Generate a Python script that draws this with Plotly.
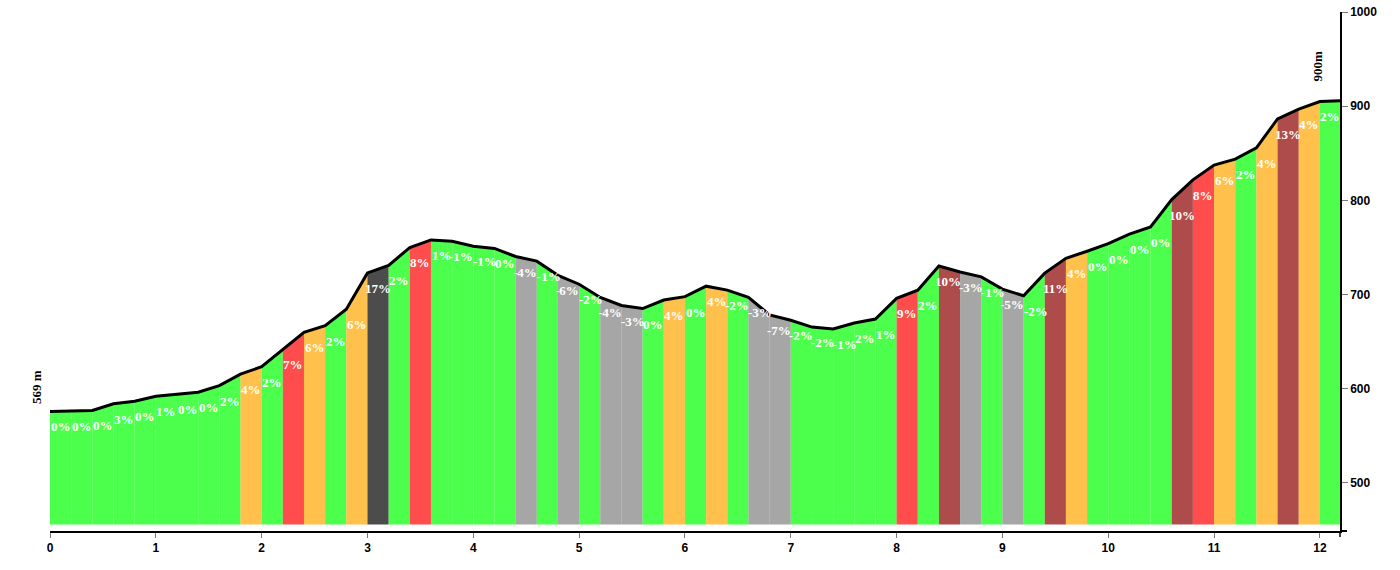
import plotly.graph_objects as go

# ---- data ----
distance_km = [0.0, 0.2, 0.4, 0.6, 0.8, 1.0, 1.2, 1.4, 1.6, 1.8, 2.0, 2.2, 2.4, 2.6, 2.8,
               3.0, 3.2, 3.4, 3.6, 3.8, 4.0, 4.2, 4.4, 4.6, 4.8, 5.0, 5.2, 5.4, 5.6, 5.8,
               6.0, 6.2, 6.4, 6.6, 6.8, 7.0, 7.2, 7.4, 7.6, 7.8, 8.0, 8.2, 8.4, 8.6, 8.8,
               9.0, 9.2, 9.4, 9.6, 9.8, 10.0, 10.2, 10.4, 10.6, 10.8, 11.0, 11.2, 11.4,
               11.6, 11.8, 12.0, 12.19]
elevation_m = [576, 576.5, 577, 584, 586.7, 592, 594.3, 596.4, 603.4, 615.5, 623.4, 641.8,
               660, 667, 684.5, 723, 731, 750, 758, 756.5, 751.3, 749, 740.4, 735.5, 720.4,
               711, 697, 688.4, 685.2, 694.2, 697.8, 708.9, 704.7, 697, 678.5, 672.7, 665.5,
               663.5, 669.8, 674, 696, 704.7, 730.3, 724, 718.8, 705.8, 698.8, 722.8, 738.5,
               746, 754, 764.2, 771.8, 800.8, 821.8, 837.5, 843.8, 855.7, 886.5, 897, 905,
               905.7]
segment_class = ["G", "G", "G", "G", "G", "G", "G", "G", "G", "O", "G", "R", "O", "G", "O",
                 "K", "G", "R", "G", "G", "G", "G", "A", "G", "A", "G", "A", "A", "G", "O",
                 "G", "O", "G", "A", "A", "G", "G", "G", "G", "G", "R", "G", "D", "A", "G",
                 "A", "G", "D", "O", "G", "G", "G", "G", "D", "R", "O", "G", "O", "D", "O",
                 "G"]
segment_label = ["0%", "0%", "0%", "3%", "0%", "1%", "0%", "0%", "2%", "4%", "2%", "7%", "6%",
                 "2%", "6%", "17%", "2%", "8%", "1%", "-1%", "-1%", "0%", "-4%", "-1%", "-6%",
                 "-2%", "-4%", "-3%", "0%", "4%", "0%", "4%", "-2%", "-3%", "-7%", "-2%", "-2%",
                 "-1%", "2%", "1%", "9%", "2%", "10%", "-3%", "-1%", "-5%", "-2%", "11%", "4%",
                 "0%", "0%", "0%", "0%", "10%", "8%", "6%", "2%", "4%", "13%", "4%", "2%"]
x_ticks = [0, 1, 2, 3, 4, 5, 6, 7, 8, 9, 10, 11, 12]
y_ticks = [500, 600, 700, 800, 900, 1000]
start_label = "569 m"
end_label = "900m"

# ---- style ----
CLASS_COLORS = {
    "G": "rgba(0,255,0,0.7)",
    "O": "rgba(255,165,0,0.7)",
    "R": "rgba(255,0,0,0.7)",
    "D": "rgba(139,0,0,0.7)",
    "K": "rgba(0,0,0,0.7)",
    "A": "rgba(128,128,128,0.7)",
}
Y_MIN, Y_MAX = 449, 1000
FILL_BASE = 456
LABEL_SIZE = 13
LABEL_FONT = dict(family="Liberation Serif, Times New Roman, serif", size=LABEL_SIZE,
                  color="white", weight="bold")
PLOT_W_PX = 1290


def est_width(s):
    em = {"%": 1.0, "-": 0.333}
    return sum(em.get(c, 0.5) for c in s) * LABEL_SIZE


# small horizontal nudges so neighbouring labels do not collide
seg_px = 0.2 / distance_km[-1] * PLOT_W_PX
xshift = [0.0] * len(segment_label)
for i in range(len(segment_label) - 1):
    need = (est_width(segment_label[i]) + est_width(segment_label[i + 1])) / 2
    excess = need - seg_px
    if excess > 2.5 and abs(elevation_m[i] - elevation_m[i + 1]) < 12:
        xshift[i] -= excess / 2
        xshift[i + 1] += excess / 2

fig = go.Figure()

for i, cls in enumerate(segment_class):
    x0, x1 = distance_km[i], distance_km[i + 1]
    y0, y1 = elevation_m[i], elevation_m[i + 1]
    fig.add_trace(go.Scatter(
        x=[x0, x0, x1, x1, x0], y=[FILL_BASE, y0, y1, FILL_BASE, FILL_BASE],
        mode="lines", fill="toself", fillcolor=CLASS_COLORS[cls],
        line=dict(width=0), hoverinfo="skip", showlegend=False))

fig.add_trace(go.Scatter(x=distance_km, y=elevation_m, mode="lines",
                         line=dict(color="black", width=3), showlegend=False,
                         hoverinfo="skip"))

for i, lab in enumerate(segment_label):
    fig.add_annotation(x=(distance_km[i] + distance_km[i + 1]) / 2, y=elevation_m[i],
                       text=lab, showarrow=False, yanchor="middle", yshift=-15.5,
                       xshift=xshift[i], font=LABEL_FONT)

fig.add_annotation(xref="paper", x=-13 / 1290, xanchor="center", y=602, yanchor="middle",
                   text=start_label, showarrow=False, textangle=-90,
                   font=dict(family="Liberation Serif, serif", size=13,
                             color="black", weight="bold"))
fig.add_annotation(x=11.98, xanchor="center", y=943, yanchor="middle", text=end_label,
                   showarrow=False, textangle=-90,
                   font=dict(family="Liberation Serif, serif", size=13, color="black",
                             weight="bold"))

# outer ticks of axes
fig.add_shape(type="line", xref="paper", yref="paper", x0=1, x1=1, y0=0, y1=-6 / 526,
              line=dict(color="black", width=1.5))
fig.add_shape(type="line", xref="paper", yref="paper", x0=1, x1=1 + 7 / 1290, y0=0, y1=0,
              line=dict(color="black", width=2))

tickfont = dict(family="Arial, Liberation Sans, sans-serif", size=12, color="black",
                weight="bold")
fig.update_layout(
    width=1400, height=570,
    margin=dict(l=50, r=60, t=5, b=39),
    paper_bgcolor="white", plot_bgcolor="white",
    xaxis=dict(range=[0, distance_km[-1]], tickvals=x_ticks, ticks="outside", ticklen=5,
               tickcolor="#777", showline=True, linecolor="black", linewidth=2,
               showgrid=False, zeroline=False, tickfont=tickfont, fixedrange=True,
               ticklabeloverflow="allow"),
    yaxis=dict(range=[Y_MIN, Y_MAX], tickvals=y_ticks, side="right", ticks="outside",
               ticklen=6, tickcolor="#777", showline=True, linecolor="black", linewidth=1.5,
               showgrid=False, zeroline=False, tickfont=tickfont, fixedrange=True,
               ticklabeloverflow="allow"),
)

fig.write_html("out.html", config={"displayModeBar": False},
               post_script="document.body.style.margin='0px';")
